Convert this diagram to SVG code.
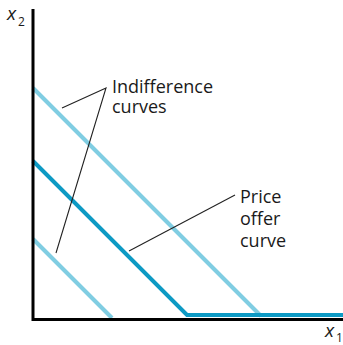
<svg xmlns="http://www.w3.org/2000/svg" width="343" height="345" viewBox="0 0 343 345">
<style>
.light{fill:none;stroke:#80cde2;stroke-width:4}
.dark{fill:none;stroke:#0d9ac4;stroke-width:4;stroke-linejoin:miter}
.axis{fill:none;stroke:#000;stroke-width:3}
.lead{fill:none;stroke:#222;stroke-width:1.1}
.lbl{font-family:"Open Sans","Liberation Sans",sans-serif;font-size:18px;fill:#1a1a1a}
.var{font-family:"Open Sans","Liberation Sans",sans-serif;font-size:19px;font-style:italic;fill:#1a1a1a}
.sub{font-family:"Open Sans","Liberation Sans",sans-serif;font-size:12px;fill:#1a1a1a}
</style>
<rect width="343" height="345" fill="#fff"/>
<g id="curves">
<g id="ic-high"><polyline class="light" points="33,88 261,316"/></g>
<g id="ic-mid"><polyline class="dark" points="33,161 187,315 343,315"/></g>
<g id="ic-low"><polyline class="light" points="33,239 112,318"/></g>
</g>
<g id="axes">
<polyline class="axis" points="33,9 33,319.5 343,319.5"/>
</g>
<g id="connectors">
<polyline class="lead" points="62,108 106,88 56,253"/>
<polyline class="lead" points="235,195 129,251"/>
</g>
<g id="label-indifference">
<text class="lbl" x="112" y="93">Indifference</text>
<text class="lbl" x="112" y="113">curves</text>
</g>
<g id="label-price">
<text class="lbl" x="240" y="203">Price</text>
<text class="lbl" x="240" y="225">offer</text>
<text class="lbl" x="240" y="247">curve</text>
</g>
<g id="label-x2">
<text class="var" x="7" y="20">x</text><text class="sub" x="18" y="26">2</text>
</g>
<g id="label-x1">
<text class="var" x="325" y="337">x</text><text class="sub" x="336" y="342">1</text>
</g>
</svg>
